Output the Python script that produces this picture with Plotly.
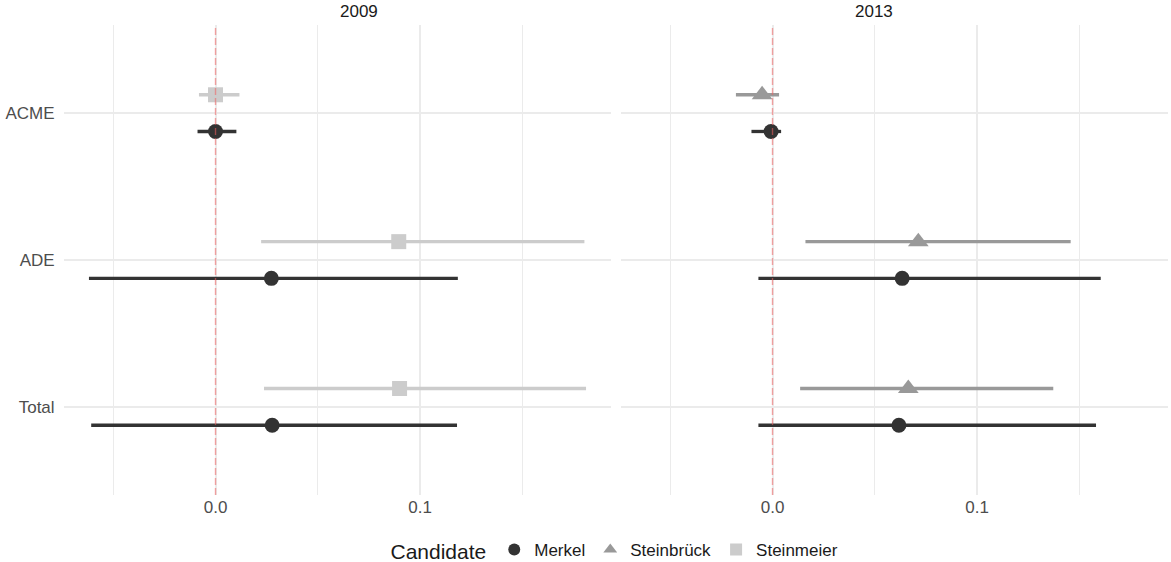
import plotly.graph_objects as go

# ---- data ----
measures = ["ACME", "ADE", "Total"]
years = ["2009", "2013"]

# 2009
merkel_2009_est = [0.0, 0.0273, 0.0277]
merkel_2009_lo = [-0.0088, -0.0619, -0.0608]
merkel_2009_hi = [0.0102, 0.1185, 0.1181]
steinmeier_2009_est = [0.0, 0.0896, 0.0900]
steinmeier_2009_lo = [-0.0081, 0.0223, 0.0237]
steinmeier_2009_hi = [0.0117, 0.1804, 0.1812]

# 2013
merkel_2013_est = [-0.0007, 0.0634, 0.0618]
merkel_2013_lo = [-0.0103, -0.0069, -0.0069]
merkel_2013_hi = [0.0042, 0.1605, 0.1582]
steinbrueck_2013_est = [-0.0051, 0.0713, 0.0664]
steinbrueck_2013_lo = [-0.0179, 0.0161, 0.0135]
steinbrueck_2013_hi = [0.0032, 0.1458, 0.1373]

x_ticks = [0.0, 0.1]
x_tick_labels = ["0.0", "0.1"]
x_minor = [-0.05, 0.05, 0.15]

# ---- style ----
FONT = "Liberation Sans, Arial, sans-serif"
colors = {"Merkel": "#333333", "Steinbrück": "#999999", "Steinmeier": "#cccccc"}
symbols = {"Merkel": "circle", "Steinbrück": "triangle-up", "Steinmeier": "square"}
msize = {"Merkel": 15, "Steinbrück": 18, "Steinmeier": 15}
rank = {"Merkel": 1, "Steinbrück": 2, "Steinmeier": 3}
dodge = {"Merkel": -0.125, "Steinbrück": 0.125, "Steinmeier": 0.125}
base_y = {m: len(measures) - i for i, m in enumerate(measures)}

W, H = 1171, 562
P1 = (64, 611)     # left panel pixel span
P2 = (621, 1168)   # right panel pixel span
TOP, BOT = 25, 495
ml, mr, mt, mb = P1[0], W - P2[1], TOP, H - BOT
pw = W - ml - mr
ph = H - mt - mb
dom1 = [0, (P1[1] - ml) / pw]
dom2 = [(P2[0] - ml) / pw, 1]

fig = go.Figure()

series = [
    ("2009", "Merkel", merkel_2009_est, merkel_2009_lo, merkel_2009_hi, "x", "y", True),
    ("2009", "Steinmeier", steinmeier_2009_est, steinmeier_2009_lo, steinmeier_2009_hi, "x", "y", True),
    ("2013", "Merkel", merkel_2013_est, merkel_2013_lo, merkel_2013_hi, "x2", "y2", False),
    ("2013", "Steinbrück", steinbrueck_2013_est, steinbrueck_2013_lo, steinbrueck_2013_hi, "x2", "y2", True),
]

for yr, cand, est, lo, hi, xa, ya, show in series:
    ys = [base_y[m] + dodge[cand] for m in measures]
    fig.add_trace(go.Scatter(
        x=est, y=ys, xaxis=xa, yaxis=ya,
        mode="markers", name=cand, legendgroup=cand, showlegend=show,
        legendrank=rank[cand],
        marker=dict(color=colors[cand], symbol=symbols[cand], size=msize[cand],
                    line=dict(width=0)),
        error_x=dict(type="data", symmetric=False,
                     array=[h - e for h, e in zip(hi, est)],
                     arrayminus=[e - l for e, l in zip(est, lo)],
                     color=colors[cand], thickness=3.3, width=0),
        hoverinfo="skip",
    ))

xrange = [-0.0741, 0.1934]
common_x = dict(range=xrange, tickvals=x_ticks, ticktext=x_tick_labels, automargin=False,
                showgrid=True, gridcolor="#ebebeb", gridwidth=1.8,
                zeroline=False, showline=False,
                ticks="",
                tickfont=dict(family=FONT, size=17, color="#4d4d4d"),
                minor=dict(tickvals=x_minor, showgrid=True, gridcolor="#ebebeb", gridwidth=1.0, ticks=""))
common_y = dict(range=[0.4, 3.6], tickvals=[base_y[m] for m in measures], ticktext=measures,
                automargin=False,
                showgrid=True, gridcolor="#ebebeb", gridwidth=1.8, zeroline=False, showline=False,
                ticks="outside", ticklen=5, tickcolor="rgba(0,0,0,0)")

fig.update_layout(
    width=W, height=H,
    margin=dict(l=ml, r=mr, t=mt, b=mb, autoexpand=False),
    paper_bgcolor="white", plot_bgcolor="white",
    xaxis=dict(domain=dom1, anchor="y", **common_x),
    xaxis2=dict(domain=dom2, anchor="y2", **common_x),
    yaxis=dict(domain=[0, 1], anchor="x", tickfont=dict(family=FONT, size=17, color="#4d4d4d"), **common_y),
    yaxis2=dict(domain=[0, 1], anchor="x2", showticklabels=False, **common_y),
    showlegend=True,
    legend=dict(orientation="h", x=0.5, xanchor="center", y=(BOT - 551) / ph, yanchor="middle",
                title=dict(text="Candidate", font=dict(family=FONT, size=21, color="#1a1a1a")),
                font=dict(family=FONT, size=17, color="#1a1a1a"),
                itemsizing="constant", traceorder="normal"),
    font=dict(family=FONT),
)

# red dashed reference line at 0 in both panels
for xa in ["x", "x2"]:
    fig.add_shape(type="line", xref=xa, yref="paper", x0=0, x1=0, y0=0, y1=1,
                  line=dict(color="rgba(240,95,95,0.55)", width=1.4, dash="7px,3px"), layer="above")

# facet strip labels
for yr, dom in zip(years, [dom1, dom2]):
    fig.add_annotation(text=yr, xref="paper", yref="paper", x=(dom[0] + dom[1]) / 2,
                       y=(BOT - 11) / ph, showarrow=False, yanchor="middle",
                       font=dict(family=FONT, size=17, color="#1a1a1a"))

# remove the browser's default 8px body margin so the figure sits at (0, 0)
fig.write_html("out.html", config={"displayModeBar": False},
               post_script="document.body.style.margin='0px';")
